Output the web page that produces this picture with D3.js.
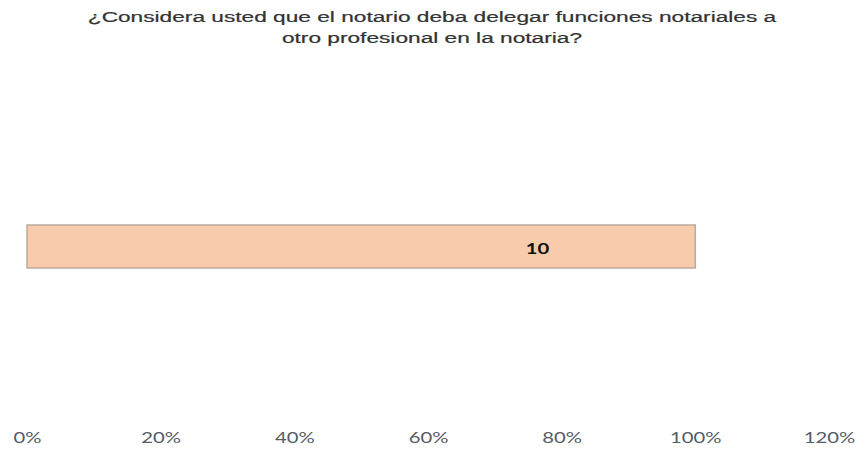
<!DOCTYPE html>
<html>
<head>
<meta charset="utf-8">
<script src="https://cdn.jsdelivr.net/npm/d3@7"></script>
<style>
  body { margin: 0; background: #fff; }
</style>
</head>
<body>
<script>
let width = 856;
let height = 451;

// data
const titleLines = ['¿Considera usted que el notario deba delegar funciones notariales a', 'otro profesional en la notaria?'];
const categories = ['Sí'];
const shares = [1.0];      // bar length as share of total
const counts = [10];       // data label
const labelAt = [0.764];   // where the label sits along the axis
const tickValues = [0, 0.2, 0.4, 0.6, 0.8, 1.0, 1.2];

const svg = d3.select('body')
  .append('svg')
  .attr('width', width)
  .attr('height', height);

let x = d3.scaleLinear()
  .domain([0, 1.2])
  .range([27, 829]);

let y = d3.scaleBand()
  .domain(categories)
  .range([225, 268])
  .padding(0);

// the picture's text is stretched sideways, so widen it with textLength
function stretch(sel, k) {
  sel.each(function() {
    var w = this.getComputedTextLength();
    d3.select(this)
      .attr('textLength', w * k)
      .attr('lengthAdjust', 'spacingAndGlyphs');
  });
}

svg.append('g').attr('class', 'title')
  .selectAll('text').data(titleLines)
  .enter().append('text')
    .attr('x', 432)
    .attr('y', (d, i) => 22 + i * 21)
    .attr('text-anchor', 'middle')
    .style('font-family', 'Liberation Sans, Arial, sans-serif')
    .style('font-size', '14px')
    .style('fill', '#333')
    .style('stroke', '#333')
    .style('stroke-width', 0.2)
    .text(d => d)
    .call(stretch, 1.62);

svg.append('g').attr('class', 'bars')
  .selectAll('rect').data(shares)
  .enter().append('rect')
    .attr('x', x(0))
    .attr('y', (d, i) => y(categories[i]))
    .attr('width', d => x(d) - x(0))
    .attr('height', y.bandwidth())
    .attr('fill', '#F7CBAC')
    .attr('stroke', '#BBAA9E')
    .attr('stroke-width', 1.5);

svg.append('g').attr('class', 'labels')
  .selectAll('text').data(counts)
  .enter().append('text')
    .attr('x', (d, i) => x(labelAt[i]))
    .attr('y', (d, i) => y(categories[i]) + y.bandwidth() / 2 + 7)
    .attr('text-anchor', 'middle')
    .style('font-family', 'Lato, Open Sans, sans-serif')
    .style('font-weight', 'bold')
    .style('font-size', '15px')
    .style('fill', '#111')
    .text(d => d)
    .call(stretch, 1.35);

const axis = d3.axisBottom(x)
  .tickValues(tickValues)
  .tickSize(0)
  .tickPadding(0)
  .tickFormat(d3.format('.0%'));

const ax = svg.append('g')
  .attr('transform', 'translate(0,443)')
  .call(axis);
ax.select('.domain').remove();
ax.selectAll('text')
  .attr('dy', null)
  .attr('y', 0)
  .style('font-family', 'Lato, Open Sans, sans-serif')
  .style('font-size', '15px')
  .style('fill', '#555b66')
  .call(stretch, 1.35);
</script>
</body>
</html>
